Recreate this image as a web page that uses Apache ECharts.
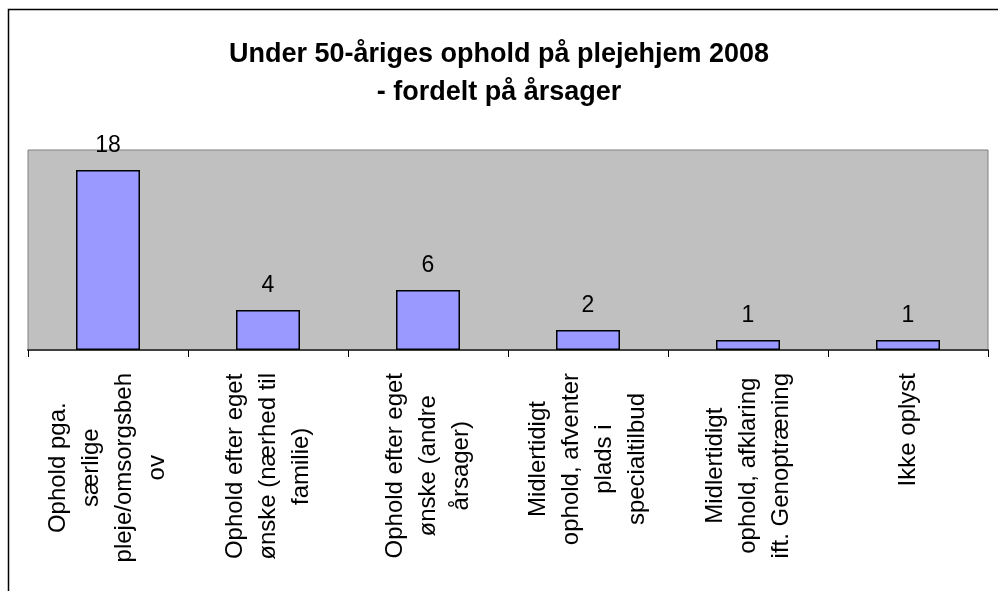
<!DOCTYPE html>
<html>
<head>
<meta charset="utf-8">
<script src="https://cdn.jsdelivr.net/npm/echarts@6/dist/echarts.min.js"></script>
<style>
  html, body { margin: 0; padding: 0; background: #fff; }
  #chart { width: 998px; height: 591px; }
</style>
</head>
<body>
<div id="chart"></div>
<script>
// kategorier (linjeskift som i originalen)
const categories = [
    'Ophold pga.\nsærlige\npleje/omsorgsbeh\nov',
    'Ophold efter eget\nønske (nærhed til\nfamilie)',
    'Ophold efter eget\nønske (andre\nårsager)',
    'Midlertidigt\nophold, afventer\nplads i\nspecialtilbud',
    'Midlertidigt\nophold, afklaring\nift. Genoptræning',
    'Ikke oplyst'
];
const values = [18, 4, 6, 2, 1, 1];
const titleText = 'Under 50-åriges ophold på plejehjem 2008\n- fordelt på årsager';

const font = '"Liberation Sans", Arial, sans-serif';

let myChart = echarts.init(document.getElementById('chart'));
myChart.setOption({
    backgroundColor: '#fff',
    animation: false,
    title: {
        text: titleText,
        left: 'center',
        top: 31,
        textStyle: {
            fontFamily: font,
            fontSize: 27,
            fontWeight: 'bold',
            lineHeight: 38,
            color: '#000'
        }
    },
    // ramme om hele figuren
    graphic: [{
        type: 'rect',
        shape: { x: 8.5, y: 9.5, width: 1200, height: 1000 },
        style: { fill: 'none', stroke: '#000', lineWidth: 1.5 },
        silent: true
    }],
    grid: {
        left: 28,
        right: 10,
        top: 150,
        bottom: 241,
        show: true,
        backgroundColor: '#C0C0C0',
        borderColor: '#808080',
        borderWidth: 1
    },
    xAxis: {
        type: 'category',
        data: categories,
        axisLine: { lineStyle: { color: '#404040', width: 2 } },
        axisTick: { show: true, length: 7, lineStyle: { color: '#000', width: 1 } },
        axisLabel: {
            rotate: 90,
            margin: 23,
            interval: 0,
            formatter: function (v) {
                return v.split('\n').map(function (l) { return '{c|' + l + '}'; }).join('\n');
            },
            rich: {
                c: {
                    align: 'center',
                    fontFamily: font,
                    fontSize: 24,
                    lineHeight: 33,
                    color: '#000'
                }
            }
        }
    },
    yAxis: {
        type: 'value',
        min: 0,
        max: 20,
        show: false,
        splitLine: { show: false }
    },
    series: [{
        type: 'bar',
        data: values,
        barWidth: '40%',
        itemStyle: {
            color: '#9999FF',
            borderColor: '#000',
            borderWidth: 1.5
        },
        label: {
            show: true,
            position: 'top',
            distance: 13,
            fontFamily: font,
            fontSize: 23,
            color: '#000'
        }
    }]
});
</script>
</body>
</html>
